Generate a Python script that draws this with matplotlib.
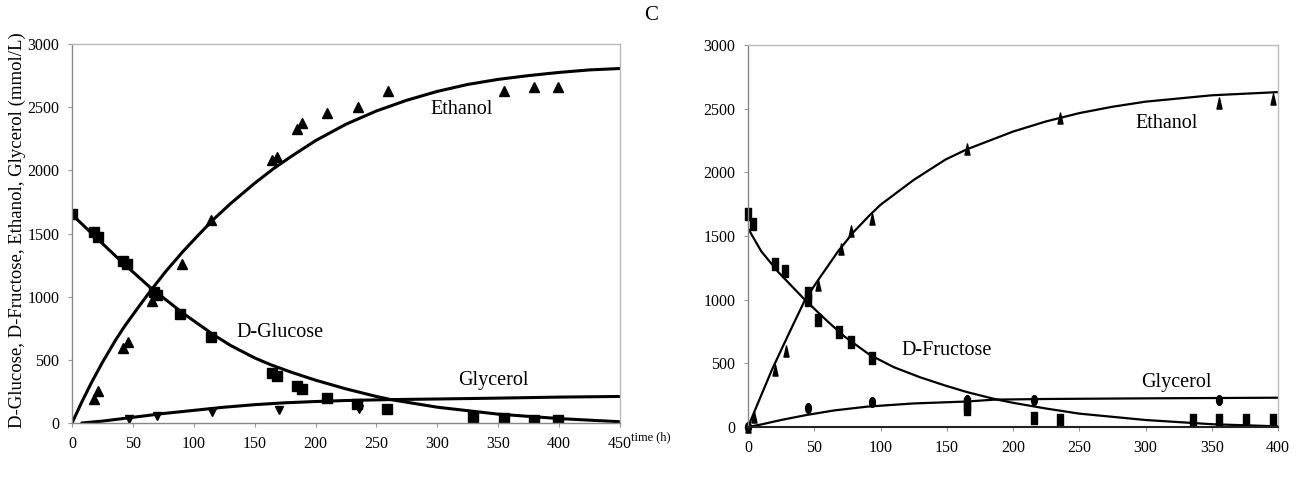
import matplotlib
matplotlib.use("Agg")
import matplotlib.pyplot as plt
import numpy as np
from matplotlib.path import Path

plt.rcParams['font.family'] = ['Liberation Serif', 'DejaVu Serif']

# ---------------- Left panel (D-Glucose) ----------------
L_glu_t = [0, 18, 21, 41.5, 45, 67, 69.6, 89, 114, 164, 168.5, 184.5, 188.7, 209, 234, 259, 329.5, 355, 379, 399]
L_glu_y = [1655, 1509, 1472, 1284, 1258, 1040, 1010, 860, 683, 397, 370, 290, 272, 200, 148, 110, 50, 38, 24, 22]
L_eth_t = [18, 21.5, 42, 46, 66, 90, 114, 164, 168.5, 184.5, 189, 209, 234.5, 259.5, 355, 379, 399]
L_eth_y = [193, 254, 590, 640, 965, 1258, 1604, 2078, 2105, 2330, 2372, 2452, 2505, 2629, 2629, 2663, 2663]
L_gly_t = [47, 70, 115, 170, 236]
L_gly_y = [34, 55, 90, 100, 110]

L_eth_ct = [0, 8, 16, 25, 36, 43.5, 54, 64, 77, 91, 103, 116, 130, 149, 165, 180, 200, 225, 250, 275, 300, 325, 350, 375, 400, 425, 450]
L_eth_cy = [0, 165, 320, 480, 660, 770, 910, 1040, 1200, 1356, 1480, 1610, 1735, 1890, 2010, 2110, 2235, 2365, 2470, 2555, 2625, 2680, 2720, 2750, 2775, 2795, 2806]
L_glu_ct = [0, 19, 42, 64, 91, 116, 130, 150, 163, 180, 200, 225, 250, 262, 300, 350, 400, 450]
L_glu_cy = [1650, 1475, 1265, 1075, 870, 700, 615, 515, 462, 402, 339, 270, 210, 185, 125, 70, 35, 10]
L_gly_ct = [8, 25, 50, 75, 100, 125, 150, 175, 200, 225, 260, 300, 350, 400, 450]
L_gly_cy = [0, 15, 45, 75, 100, 125, 145, 160, 170, 178, 185, 190, 197, 205, 210]

# ---------------- Right panel (D-Fructose) ----------------
R_fru_t = [0, 3.7, 20, 28, 45, 45.6, 53, 69, 77.5, 93.6, 165, 165, 215.5, 235.7, 336, 355.7, 376, 396]
R_fru_y = [1676, 1597, 1282, 1229, 1053, 1000, 842, 750, 671, 539, 184, 145, 71, 53, 53, 53, 53, 53]
R_eth_t = [0, 4.6, 20, 28.5, 53, 70, 77.5, 93.6, 165, 235.7, 355.7, 396]
R_eth_y = [0, 79, 447, 597, 1118, 1395, 1539, 1632, 2184, 2429, 2547, 2579]
R_gly_t = [0, 45, 93.6, 165, 215.5, 355.7]
R_gly_y = [0, 150, 197, 210, 215, 215]

R_eth_ct = [0, 9, 18, 30, 43, 52, 60, 68, 80, 92, 100, 125, 149, 165, 200, 225, 250, 275, 300, 350, 400]
R_eth_cy = [0, 225, 448, 715, 998, 1140, 1260, 1380, 1535, 1665, 1745, 1940, 2100, 2180, 2320, 2400, 2465, 2515, 2555, 2605, 2630]
R_fru_ct = [0, 10, 23, 43, 60, 73, 92, 110, 130, 149, 165, 186, 200, 225, 250, 300, 350, 400]
R_fru_cy = [1560, 1380, 1215, 998, 830, 709, 566, 470, 390, 325, 275, 220, 190, 145, 105, 55, 22, 5]
R_gly_ct = [0, 10, 25, 44, 65, 90, 125, 165, 186, 225, 300, 400]
R_gly_cy = [0, 20, 55, 94, 130, 160, 185, 200, 215, 220, 225, 230]

y_ticks = [0, 500, 1000, 1500, 2000, 2500, 3000]
L_x_ticks = [0, 50, 100, 150, 200, 250, 300, 350, 400, 450]
R_x_ticks = [0, 50, 100, 150, 200, 250, 300, 350, 400]

fig = plt.figure(figsize=(13.02, 4.79), dpi=100)
axL = fig.add_axes([72/1302, 1-423/479, 548/1302, 379/479])
axR = fig.add_axes([748/1302, 1-427/479, 530/1302, 382/479])

# custom markers
rect_marker = Path([(-0.5, -1), (0.5, -1), (0.5, 1), (-0.5, 1), (-0.5, -1)],
                   [Path.MOVETO, Path.LINETO, Path.LINETO, Path.LINETO, Path.CLOSEPOLY])
th = np.linspace(0, 2*np.pi, 40)
oval_marker = Path(np.column_stack([0.6*np.cos(th), np.sin(th)]))
ntri_marker = Path([(-0.45, -1), (0.45, -1), (0, 1), (-0.45, -1)],
                   [Path.MOVETO, Path.LINETO, Path.LINETO, Path.CLOSEPOLY])

k = 'black'
# Left
axL.plot(L_eth_ct, L_eth_cy, color=k, lw=2.2, solid_capstyle='round', solid_joinstyle='round')
axL.plot(L_glu_ct, L_glu_cy, color=k, lw=2.2, solid_capstyle='round', solid_joinstyle='round')
axL.plot(L_gly_ct, L_gly_cy, color=k, lw=2.2, solid_capstyle='round', solid_joinstyle='round')
axL.plot(L_glu_t, L_glu_y, 's', color=k, ms=7, ls='none')
axL.plot(L_eth_t, L_eth_y, '^', color=k, ms=7, ls='none')
axL.plot(L_gly_t, L_gly_y, 'v', color=k, ms=6, ls='none')

# Right
axR.plot(R_eth_ct, R_eth_cy, color=k, lw=1.6, solid_joinstyle='round')
axR.plot(R_fru_ct, R_fru_cy, color=k, lw=1.6, solid_joinstyle='round')
axR.plot(R_gly_ct, R_gly_cy, color=k, lw=1.6, solid_joinstyle='round')
axR.plot(R_fru_t, R_fru_y, marker=rect_marker, color=k, ms=9, ls='none', clip_on=False)
axR.plot(R_eth_t, R_eth_y, marker=ntri_marker, color=k, ms=8, ls='none', clip_on=False)
axR.plot(R_gly_t, R_gly_y, marker=oval_marker, color=k, ms=7, ls='none', clip_on=False)

for ax, xt, xmax in [(axL, L_x_ticks, 450), (axR, R_x_ticks, 400)]:
    ax.set_xlim(0, xmax)
    ax.set_ylim(0, 3000)
    ax.set_xticks(xt)
    ax.set_yticks(y_ticks)
    ax.tick_params(axis='both', labelsize=11.5, length=3, width=0.8, color='#999999', pad=6)
    for s in ['top', 'right']:
        ax.spines[s].set_color('#bbbbbb')
        ax.spines[s].set_linewidth(1.0)
    ax.spines['left'].set_color('#888888')
    ax.spines['left'].set_linewidth(1.0)
    ax.spines['bottom'].set_color('#888888')
    ax.spines['bottom'].set_linewidth(1.0)
    ax.set_facecolor('white')
axR.spines['bottom'].set_color('#222222')
axR.spines['bottom'].set_linewidth(1.5)

axL.text(320, 2483, 'Ethanol', fontsize=14.5, ha='center', va='center')
axL.text(171, 715, 'D-Glucose', fontsize=14.5, ha='center', va='center')
axL.text(346, 334, 'Glycerol', fontsize=14.5, ha='center', va='center')
axR.text(316, 2382, 'Ethanol', fontsize=14.5, ha='center', va='center')
axR.text(150, 597, 'D-Fructose', fontsize=14.5, ha='center', va='center')
axR.text(323, 350, 'Glycerol', fontsize=14.5, ha='center', va='center')

fig.text(651/1302, 1-15/479, 'C', fontsize=15, ha='center', va='center')
fig.text(651/1302, 1-437/479, 'time (h)', fontsize=9, ha='center', va='center')
fig.text(17/1302, 1-230/479, 'D-Glucose, D-Fructose, Ethanol, Glycerol (mmol/L)',
         fontsize=13.5, rotation=90, ha='center', va='center')

fig.savefig('out.png', dpi=100, facecolor='white')
